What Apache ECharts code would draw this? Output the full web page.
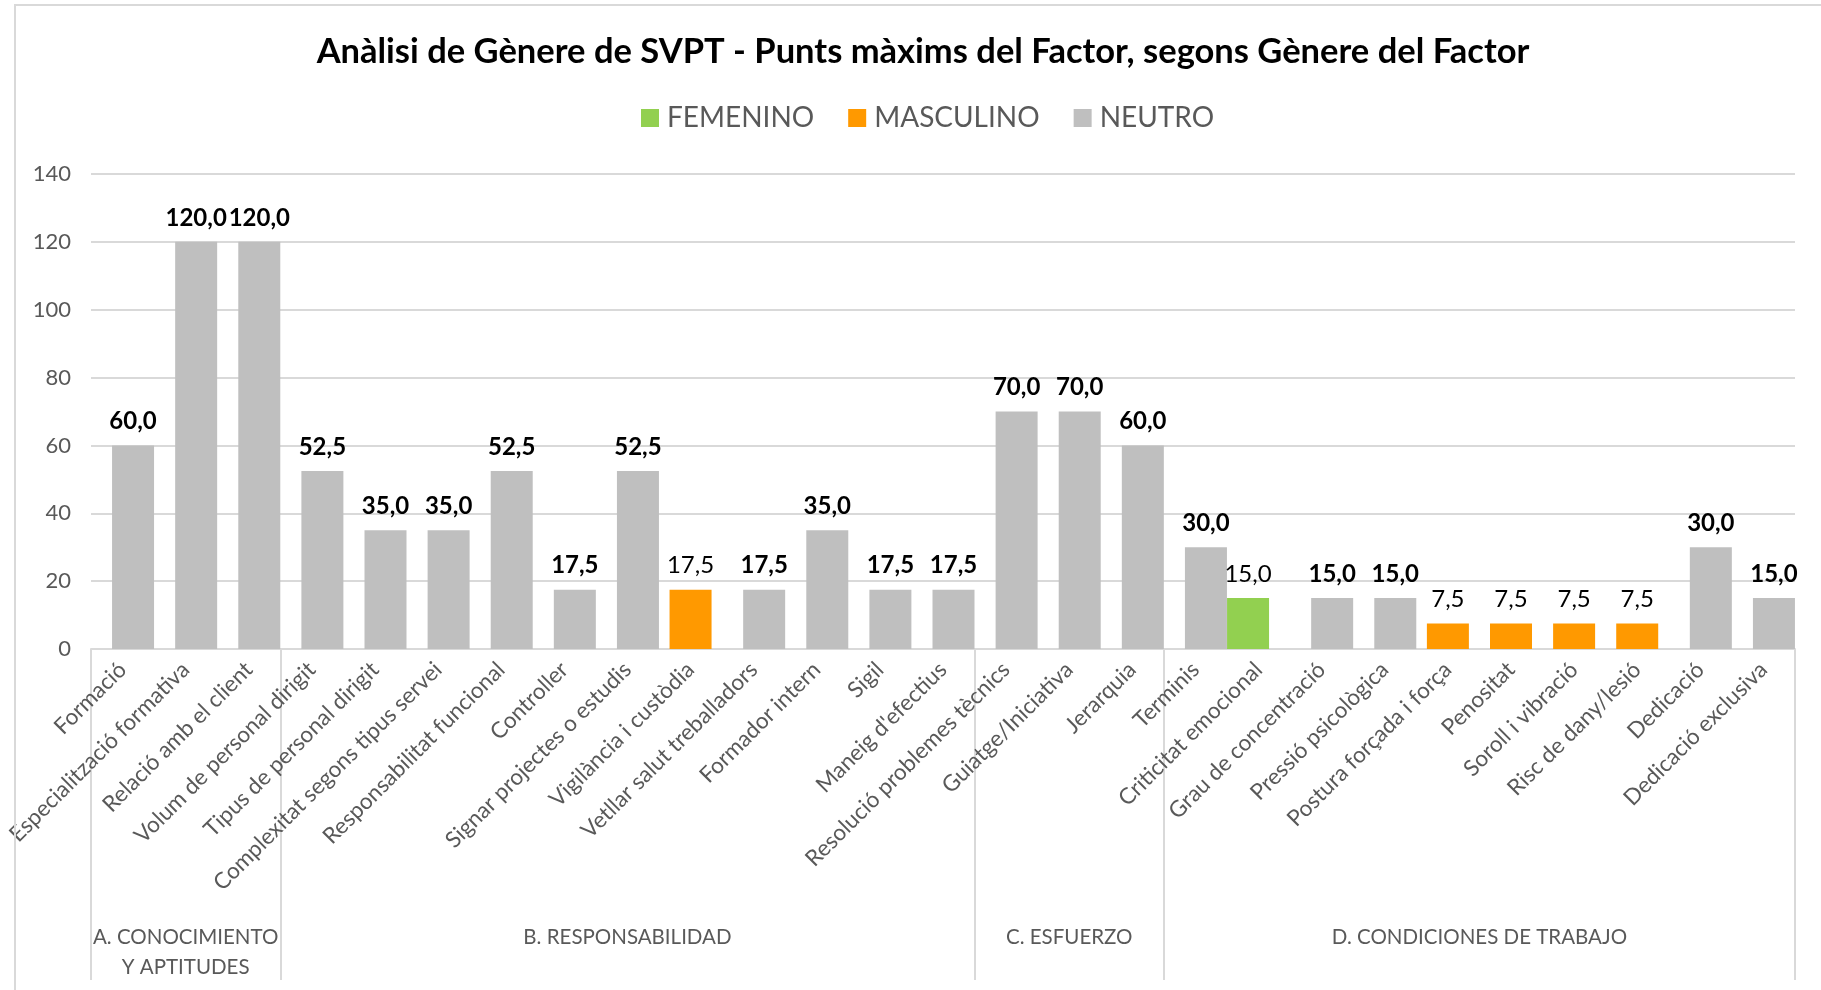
<!DOCTYPE html>
<html>
<head>
<meta charset="utf-8">
<title>Anàlisi de Gènere de SVPT</title>
<script src="https://cdn.jsdelivr.net/npm/echarts@6/dist/echarts.min.js"></script>
<style>
  html, body { margin: 0; padding: 0; background: #fff; overflow: hidden; }
  #chart { width: 1821px; height: 990px; }
  #frame { position: absolute; left: 14px; top: 4px; width: 2000px; height: 1200px;
           border: 2px solid #d9d9d9; pointer-events: none; }
</style>
</head>
<body>
<div id="chart"></div>
<div id="frame"></div>
<script>
const categories = [
  "Formació", "Especialització formativa", "Relació amb el client",
  "Volum de personal dirigit", "Tipus de personal dirigit", "Complexitat segons tipus servei",
  "Responsabilitat funcional", "Controller", "Signar projectes o estudis",
  "Vigilància i custòdia", "Vetllar salut treballadors", "Formador intern", "Sigil",
  "Maneig d'efectius",
  "Resolució problemes tècnics", "Guiatge/Iniciativa", "Jerarquia",
  "Terminis", "Criticitat emocional", "Grau de concentració", "Pressió psicològica",
  "Postura forçada i força", "Penositat", "Soroll i vibració", "Risc de dany/lesió",
  "Dedicació", "Dedicació exclusiva"
];

// factor groups (second level of the x axis) and how many factors each one holds
const groupNames = ["A. CONOCIMIENTO\nY APTITUDES", "B. RESPONSABILIDAD", "C. ESFUERZO", "D. CONDICIONES DE TRABAJO"];
const groupSizes = [3, 11, 3, 10];

const femenino = [null, null, null, null, null, null, null, null, null, null, null, null, null, null,
  null, null, null, null, 15, null, null, null, null, null, null, null, null];
const masculino = [null, null, null, null, null, null, null, null, null, 17.5, null, null, null, null,
  null, null, null, null, null, null, null, 7.5, 7.5, 7.5, 7.5, null, null];
const neutro = [60, 120, 120, 52.5, 35, 35, 52.5, 17.5, 52.5, null, 17.5, 35, 17.5, 17.5,
  70, 70, 60, 30, null, 15, 15, null, null, null, null, 30, 15];

const FONT = "Lato";

// group boundaries and centres, in category units
const bounds = [0];
groupSizes.forEach(n => bounds.push(bounds[bounds.length - 1] + n));
const centers = groupSizes.map((n, i) => bounds[i] + n / 2);

function fmt(v) {
  return v.toFixed(1).replace(".", ",");
}

function barSeries(name, data, color, bold) {
  return {
    name: name,
    type: "bar",
    data: data,
    barWidth: 42,
    barGap: "-75%",
    itemStyle: { color: color },
    label: {
      show: true,
      position: "top",
      distance: 12,
      color: "#000",
      fontFamily: FONT,
      fontSize: 24,
      fontWeight: bold ? "bold" : "normal",
      formatter: p => fmt(p.value)
    }
  };
}

const chart = echarts.init(document.getElementById("chart"));
chart.setOption({
  animation: false,
  title: {
    text: "Anàlisi de Gènere de SVPT - Punts màxims del Factor, segons Gènere del Factor",
    left: 918,
    textAlign: "center",
    top: 29,
    textStyle: { fontFamily: FONT, fontSize: 34.5, fontWeight: "bold", color: "#000" }
  },
  legend: {
    left: 636,
    top: 99,
    itemWidth: 18,
    itemHeight: 18,
    itemGap: 34,
    icon: "rect",
    textStyle: { fontFamily: FONT, fontSize: 28, color: "#595959", padding: [0, 0, 0, 3] }
  },
  grid: { left: 91, right: 26, top: 174, bottom: 341 },
  xAxis: [
    {
      type: "category",
      data: categories,
      axisLine: { lineStyle: { color: "#d9d9d9", width: 2 } },
      axisTick: { show: false },
      axisLabel: {
        interval: 0,
        rotate: 45,
        margin: 17,
        color: "#595959",
        fontFamily: FONT,
        fontSize: 22.5
      }
    },
    {
      type: "value",
      position: "bottom",
      min: 0,
      max: bounds[bounds.length - 1],
      axisLine: { show: false },
      splitLine: { show: false },
      axisTick: {
        customValues: bounds,
        length: 331,
        lineStyle: { color: "#d9d9d9", width: 2 }
      },
      axisLabel: {
        customValues: centers,
        margin: 273,
        color: "#595959",
        fontFamily: FONT,
        fontSize: 20.5,
        lineHeight: 30,
        formatter: v => groupNames[centers.indexOf(v)]
      }
    }
  ],
  yAxis: {
    type: "value",
    min: 0,
    max: 140,
    interval: 20,
    axisLine: { show: false },
    axisTick: { show: false },
    splitLine: { lineStyle: { color: "#d9d9d9", width: 2 } },
    axisLabel: { color: "#595959", fontFamily: FONT, fontSize: 22, margin: 20 }
  },
  series: [
    barSeries("FEMENINO", femenino, "#92d050", false),
    barSeries("MASCULINO", masculino, "#ff9900", false),
    barSeries("NEUTRO", neutro, "#bfbfbf", true)
  ]
});
</script>
</body>
</html>
